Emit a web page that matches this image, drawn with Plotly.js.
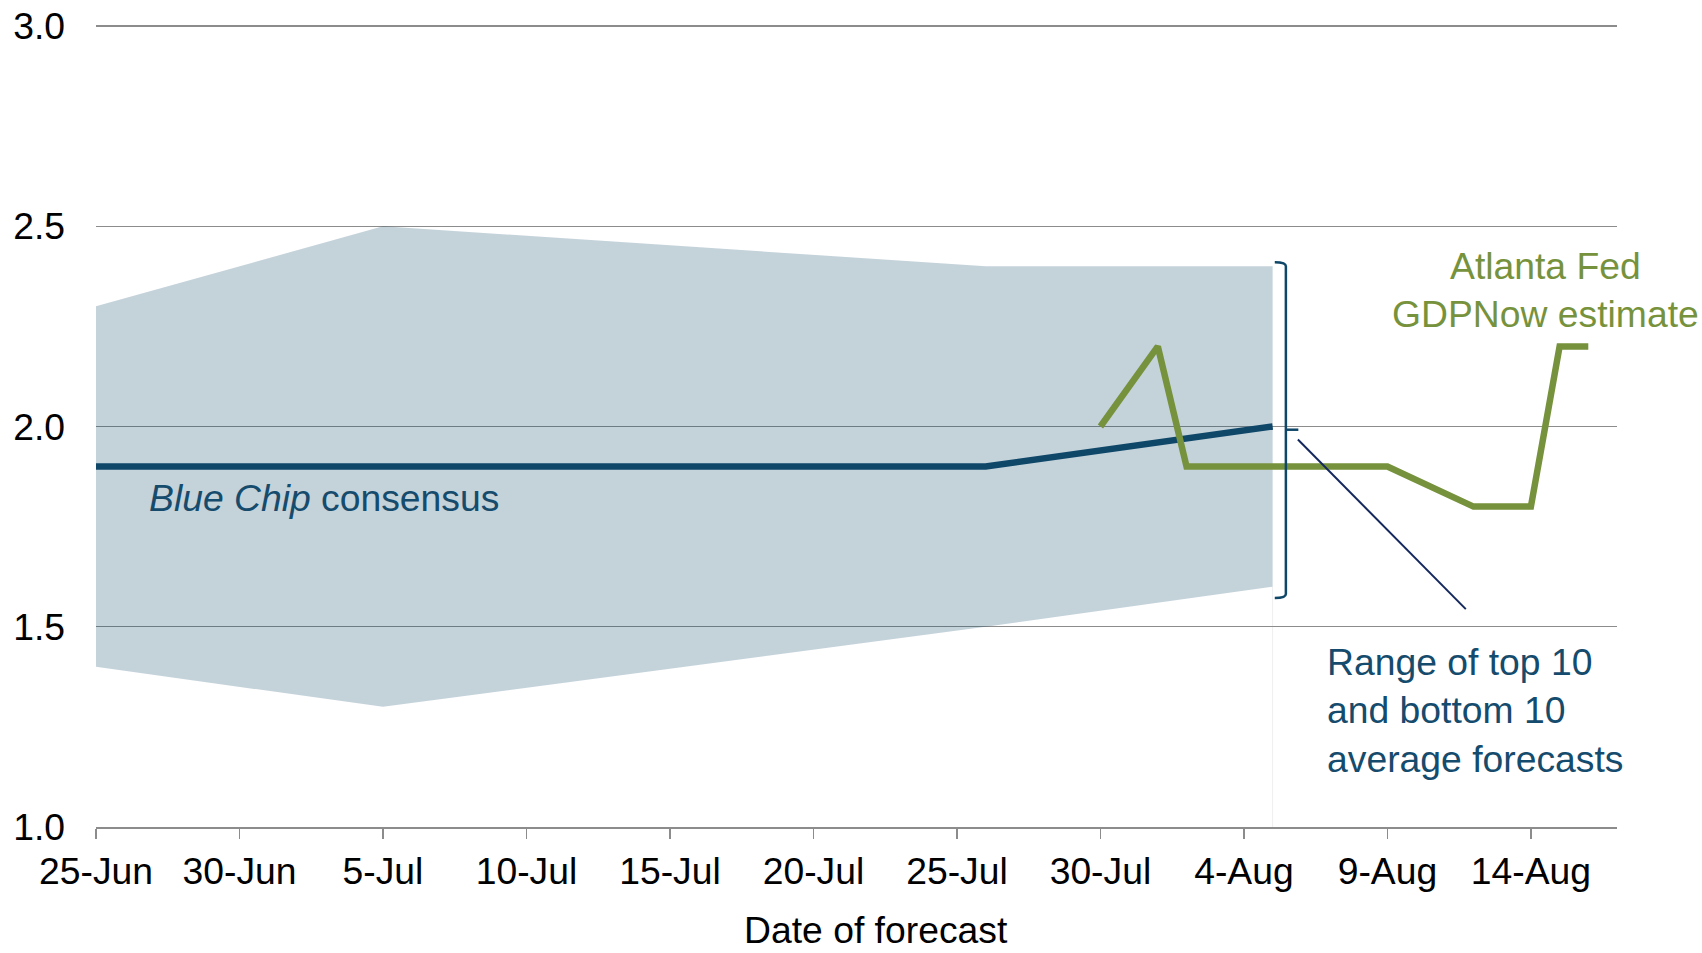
<!DOCTYPE html>
<html>
<head>
<meta charset="utf-8">
<script src="https://cdn.plot.ly/plotly-3.0.1.min.js"></script>
<style>html,body{margin:0;padding:0;background:#fff;}#chart{width:1702px;height:953px;}</style>
</head>
<body>
<div id="chart"></div>
<script>
// Blue Chip consensus and range of top/bottom 10 averages
const bcDates = ['2016-06-25', '2016-07-05', '2016-07-26', '2016-08-05'];
const bcConsensus = [1.9, 1.9, 1.9, 2.0];
const bcTop10 = [2.3, 2.5, 2.4, 2.4];
const bcBottom10 = [1.4, 1.3, 1.5, 1.6];

// Atlanta Fed GDPNow estimate
const gdpDates = ['2016-07-30', '2016-08-01', '2016-08-02', '2016-08-09', '2016-08-12', '2016-08-14', '2016-08-15', '2016-08-16'];
const gdpNow = [2.0, 2.2, 1.9, 1.9, 1.8, 1.8, 2.2, 2.2];

const yTicks = [1.0, 1.5, 2.0, 2.5, 3.0];

const FONT = 'Liberation Sans, Arial, sans-serif';
const FS = 37.3;
const BLUE = '#0f4769';
const BLUE_TXT = '#154b6c';
const GREEN = '#77923c';

const traces = [
  {x: bcDates, y: bcBottom10, type: 'scatter', mode: 'lines', line: {width: 0, color: 'rgba(0,0,0,0)'}, hoverinfo: 'skip', showlegend: false},
  {x: bcDates, y: bcTop10, type: 'scatter', mode: 'lines', fill: 'tonexty', fillcolor: 'rgba(14,70,104,0.245)', line: {width: 0, color: 'rgba(0,0,0,0)'}, showlegend: false},
  {x: bcDates, y: bcConsensus, type: 'scatter', mode: 'lines', line: {color: BLUE, width: 6.5}, showlegend: false},
  {x: gdpDates, y: gdpNow, type: 'scatter', mode: 'lines', line: {color: GREEN, width: 6.5}, showlegend: false}
];

const layout = {
  width: 1702, height: 953,
  margin: {l: 96, r: 85, t: 22, b: 126},
  paper_bgcolor: '#ffffff', plot_bgcolor: '#ffffff',
  font: {family: FONT, size: FS, color: '#000000'},
  showlegend: false,
  xaxis: {
    type: 'date',
    range: ['2016-06-25', '2016-08-17'],
    tickmode: 'linear', tick0: '2016-06-25', dtick: 5 * 86400000,
    tickformat: '%-d-%b',
    ticks: 'outside', ticklen: 10, tickwidth: 1.5, tickcolor: '#8c8c8c',
    showline: true, linecolor: '#8c8c8c', linewidth: 2,
    showgrid: false, zeroline: false,
    tickfont: {family: FONT, size: FS, color: '#000'}
  },
  yaxis: {
    range: [1.0, 3.01],
    tickmode: 'array', tickvals: yTicks,
    ticktext: yTicks.map(v => v.toFixed(1)),
    showgrid: true, gridcolor: '#8c8c8c', gridwidth: 1.3,
    showline: false, zeroline: false, ticks: '',
    ticklabelstandoff: 30,
    tickfont: {family: FONT, size: FS, color: '#000'}
  },
  annotations: [
    {text: '<i>Blue Chip</i> consensus', xref: 'paper', yref: 'y', x: 0.0337, y: 1.8225,
     xanchor: 'left', yanchor: 'middle', showarrow: false, font: {family: FONT, size: FS, color: BLUE_TXT}},
    {text: 'Atlanta Fed<br>GDPNow estimate', xref: 'paper', yref: 'y', x: 0.9532, y: 2.34,
     xanchor: 'center', yanchor: 'middle', align: 'center', showarrow: false, font: {family: FONT, size: FS, color: GREEN}},
    {text: 'Range of top 10<br>and bottom 10<br>average forecasts', xref: 'paper', yref: 'y', x: 0.808, y: 1.29,
     xanchor: 'left', yanchor: 'middle', align: 'left', showarrow: false, font: {family: FONT, size: FS, color: BLUE_TXT}},
    {text: 'Date of forecast', xref: 'paper', yref: 'paper', x: 0.5127, y: -0.128,
     xanchor: 'center', yanchor: 'middle', showarrow: false, font: {family: FONT, size: FS, color: '#000'}}
  ],
  shapes: [
    {type: 'line', xref: 'x', yref: 'y', x0: '2016-08-05', x1: '2016-08-05', y0: 1.0, y1: 1.6,
     line: {color: '#eceff1', width: 1}, layer: 'below'},
    {type: 'path', xref: 'paper', yref: 'y',
     path: 'M 0.7750,2.410 Q 0.7823,2.410 0.7823,2.400 L 0.7823,1.582 Q 0.7823,1.572 0.7750,1.572',
     line: {color: BLUE, width: 2.5}},
    {type: 'line', xref: 'paper', yref: 'y', x0: 0.7823, x1: 0.7905, y0: 1.992, y1: 1.992,
     line: {color: BLUE, width: 2.5}},
    {type: 'line', xref: 'paper', yref: 'y', x0: 0.7902, y0: 1.9675, x1: 0.9006, y1: 1.544,
     line: {color: '#14285e', width: 2}}
  ]
};

Plotly.newPlot('chart', traces, layout, {staticPlot: true, displayModeBar: false});
</script>
</body>
</html>
